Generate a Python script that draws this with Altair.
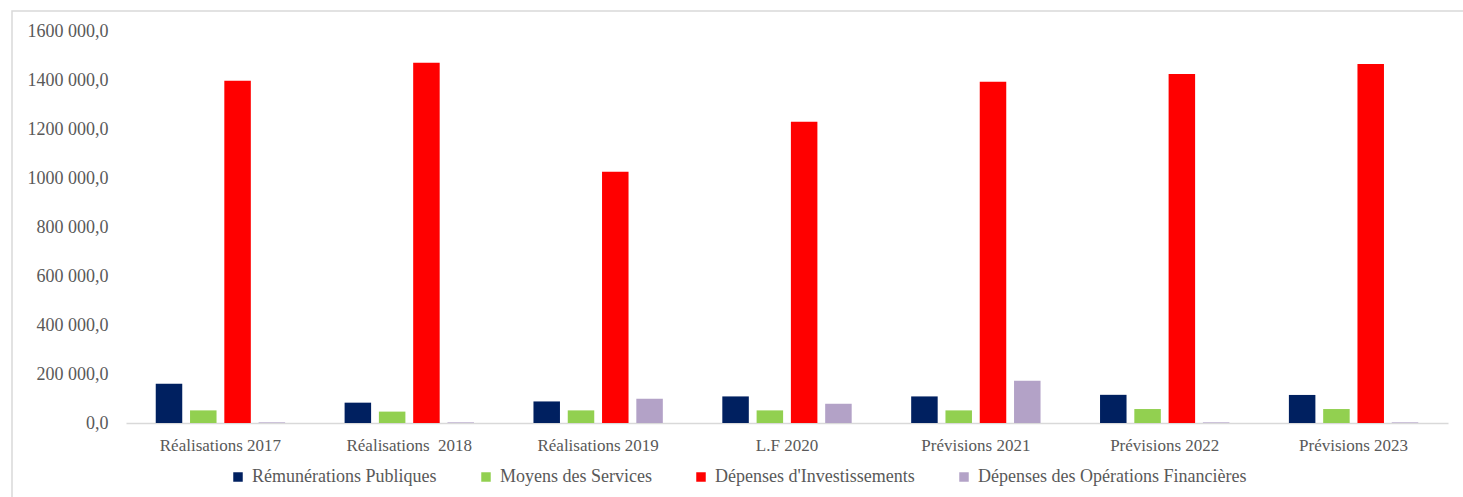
import altair as alt
import pandas as pd

categories = ["Réalisations 2017", "Réalisations \u00a02018", "Réalisations 2019", "L.F 2020",
              "Prévisions 2021", "Prévisions 2022", "Prévisions 2023"]
series = ["Rémunérations Publiques", "Moyens des Services",
          "Dépenses d'Investissements", "Dépenses des Opérations Financières"]
remunerations = [160500, 83000, 88000, 108500, 108500, 115000, 114500]
moyens = [51500, 46500, 51500, 51500, 51500, 57000, 57000]
investissements = [1397000, 1470500, 1026000, 1230000, 1393000, 1424000, 1465000]
operations = [2500, 2500, 99000, 78500, 172500, 2500, 2500]
colors = ["#002060", "#92D050", "#FF0000", "#B3A2C7"]
y_ticks = [0, 200000, 400000, 600000, 800000, 1000000, 1200000, 1400000, 1600000]

rows = []
for name, vals in zip(series, [remunerations, moyens, investissements, operations]):
    for c, v in zip(categories, vals):
        rows.append({"cat": c, "series": name, "value": v})
df = pd.DataFrame(rows)

FONT = "Liberation Serif"
TXT = "#595959"
W, H = 1322, 392

bars = alt.Chart(df).mark_bar().encode(
    x=alt.X("cat:N", sort=categories,
            scale=alt.Scale(paddingInner=0.315, paddingOuter=0.1575),
            axis=alt.Axis(title=None, labelAngle=0, domainColor="#d9d9d9", domainWidth=1.5,
                          ticks=False, labelPadding=22, labelBaseline="middle",
                          labelFont=FONT, labelFontSize=17, labelColor=TXT)),
    xOffset=alt.XOffset("series:N", sort=series,
                        scale=alt.Scale(paddingInner=0.227, paddingOuter=0)),
    y=alt.Y("value:Q", scale=alt.Scale(domain=[0, 1600000], nice=False),
            axis=alt.Axis(title=None, values=y_ticks, domain=False, ticks=False, grid=False,
                          labelExpr="datum.value == 0 ? '0,0' : floor(datum.value/1000) + ' 000,0'",
                          labelPadding=18, labelFont=FONT, labelFontSize=18, labelColor=TXT)),
    color=alt.Color("series:N", sort=series,
                    scale=alt.Scale(domain=series, range=colors),
                    legend=alt.Legend(title=None, orient="none", legendX=103, legendY=437,
                                      direction="horizontal", columns=4, symbolType="square",
                                      symbolSize=90, symbolStrokeWidth=0, labelFont=FONT,
                                      labelFontSize=18, labelColor=TXT, columnPadding=40,
                                      labelOffset=5, labelLimit=500, padding=0)),
)

frame = alt.Chart(alt.Data(values=[{}])).mark_rect(
    fill="transparent", stroke="#d9d9d9", strokeWidth=1.5
).encode(x=alt.value(-114), x2=alt.value(1345), y=alt.value(-20), y2=alt.value(480))

chart = alt.layer(frame, bars).properties(
    width=W, height=H,
    padding={"left": 126, "top": 31, "right": 15, "bottom": 74},
    autosize=alt.AutoSizeParams(type="none"),
    background="white",
).configure_view(strokeWidth=0)

chart.save("out.html", embed_options={"renderer": "svg", "actions": False})
